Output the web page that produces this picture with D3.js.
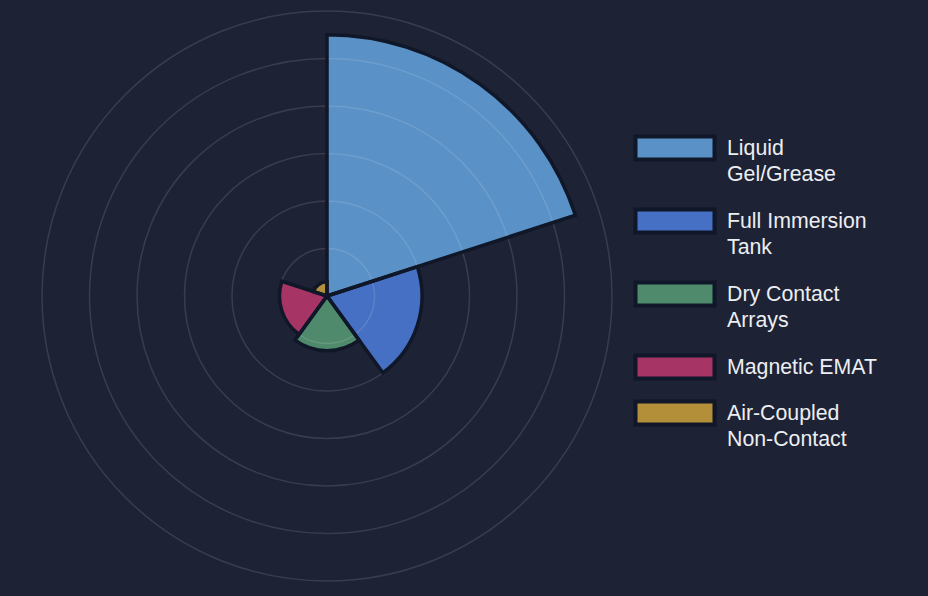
<!DOCTYPE html>
<html>
<head>
<meta charset="utf-8">
<script src="https://cdn.jsdelivr.net/npm/d3@7"></script>
<style>
  html, body { margin: 0; padding: 0; background: #1e2235; }
  svg { display: block; }
</style>
</head>
<body>
<svg id="chart"></svg>
<script>
// chart data
var categories = ["Liquid Gel/Grease", "Full Immersion Tank", "Dry Contact Arrays", "Magnetic EMAT", "Air-Coupled Non-Contact"];
var legendLines = [["Liquid", "Gel/Grease"], ["Full Immersion", "Tank"], ["Dry Contact", "Arrays"], ["Magnetic EMAT"], ["Air-Coupled", "Non-Contact"]];
var values = [55, 20, 11.5, 10, 3];
var ringTicks = [10, 20, 30, 40, 50, 60];
var colours = ["#5a91c6", "#4670c4", "#4f8a6d", "#a63566", "#b38f3a"];

var width = 928, height = 596;
var cx = 327, cy = 296;

var svg = d3.select("#chart")
    .attr("width", width)
    .attr("height", height);

svg.append("rect")
    .attr("width", width)
    .attr("height", height)
    .attr("fill", "#1e2235");

// radial scale
var r = d3.scaleLinear()
    .domain([0, 60])
    .range([0, 285]);

var g = svg.append("g")
    .attr("transform", "translate(" + cx + "," + cy + ")");

// segments
var slice = 2 * Math.PI / categories.length;
var arc = d3.arc()
    .innerRadius(0)
    .outerRadius(function (d) { return r(d.value); })
    .startAngle(function (d) { return d.i * slice; })
    .endAngle(function (d) { return (d.i + 1) * slice; });

var segs = g.selectAll(".seg")
    .data(values.map(function (v, i) { return {value: v, i: i}; }))
    .enter();

// fill first, rings, then borders on top
segs.append("path")
    .attr("d", arc)
    .attr("fill", function (d) { return colours[d.i]; });

g.selectAll(".ring")
    .data(ringTicks)
    .enter().append("circle")
    .attr("class", "ring")
    .attr("r", function (d) { return r(d); })
    .attr("fill", "none")
    .attr("stroke", "rgba(255,255,255,0.12)")
    .attr("stroke-width", 1.5);

g.selectAll(".border")
    .data(values.map(function (v, i) { return {value: v, i: i}; }))
    .enter().append("path")
    .attr("class", "border")
    .attr("d", arc)
    .attr("fill", "none")
    .attr("stroke", "#0f1729")
    .attr("stroke-width", 3.5)
    .attr("stroke-linejoin", "miter");

// legend
var legendTops = [148, 221, 294, 367, 413];
var legend = svg.append("g").attr("class", "legend");

var items = legend.selectAll(".item")
    .data(categories)
    .enter().append("g")
    .attr("class", "item")
    .attr("transform", function (d, i) { return "translate(0," + legendTops[i] + ")"; });

items.append("rect")
    .attr("x", 635.5)
    .attr("y", -11.5)
    .attr("width", 79)
    .attr("height", 23)
    .attr("fill", function (d, i) { return colours[i]; })
    .attr("stroke", "#0f1729")
    .attr("stroke-width", 4);

items.append("text")
    .attr("x", 727)
    .attr("y", 0)
    .attr("fill", "#eceef2")
    .style("font-family", "'Liberation Sans', Arial, sans-serif")
    .style("font-size", "21.3px")
    .selectAll("tspan")
    .data(function (d, i) { return legendLines[i]; })
    .enter().append("tspan")
    .attr("x", 727)
    .attr("dy", function (d, j) { return j === 0 ? "0.35em" : "26px"; })
    .text(function (d) { return d; });
</script>
</body>
</html>
